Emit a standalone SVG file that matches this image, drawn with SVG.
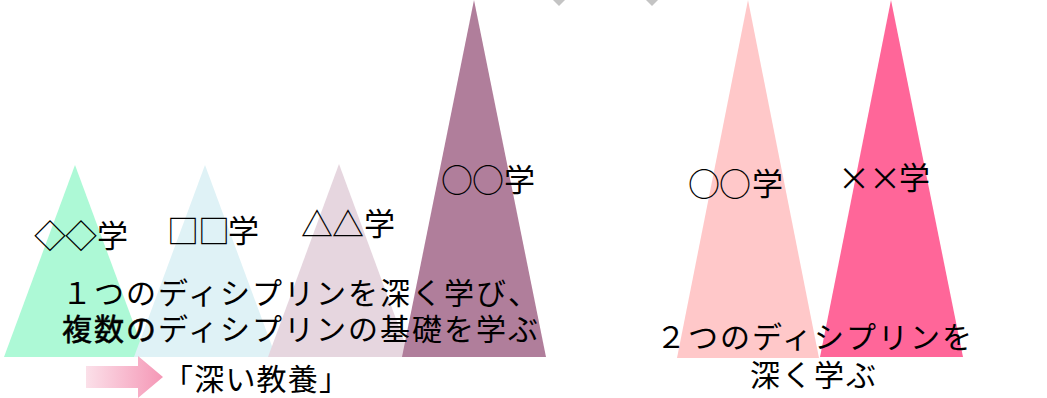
<svg xmlns="http://www.w3.org/2000/svg" width="1047" height="398" viewBox="0 0 1047 398">
<style>
text{font-family:"Noto Sans CJK JP","Noto Sans",sans-serif;fill:#000;font-size:30px}
.lbl{font-size:31px}
.sym{font-size:32px}
.heavy{stroke:#000;stroke-width:0.6px}
</style>
<defs>
<linearGradient id="ag" x1="0" y1="0" x2="1" y2="0">
<stop offset="0" stop-color="#fbe0e9"/>
<stop offset="1" stop-color="#f597b6"/>
</linearGradient>
</defs>
<rect width="1047" height="398" fill="#fff"/>
<g id="connectors">
<polygon points="553,0 565,0 559,6" fill="#c4c4c4"/>
<polygon points="646,0 658,0 652,6" fill="#c4c4c4"/>
</g>
<g id="node-diamond">
<polygon points="75,165 146,357 4,357" fill="#adf9d6"/>
</g>
<g id="node-square">
<polygon points="205,165 276,357 134,357" fill="#dff2f6"/>
</g>
<g id="node-triangle">
<polygon points="339,164 410,357 268,357" fill="#e6d6df"/>
</g>
<g id="node-circle-left">
<polygon points="474,0 546,357 402,357" fill="#b07e9b"/>
</g>
<g id="node-circle-right">
<polygon points="748,0 819,358 677,358" fill="#ffc8c9"/>
</g>
<g id="node-cross">
<polygon points="891,0 963,357 820,357" fill="#ff6699"/>
</g>
<g id="labels">
<text class="lbl" x="34 65 97" y="247"><tspan class="sym" dy="1">◇◇</tspan><tspan dy="-1">学</tspan></text>
<text class="lbl" x="167 198 228" y="242"><tspan class="sym" dy="1">□□</tspan><tspan dy="-1">学</tspan></text>
<text class="lbl" x="301 332 364" y="235"><tspan class="sym" dy="1">△△</tspan><tspan dy="-1">学</tspan></text>
<text class="lbl" x="441 472 504" y="191"><tspan class="sym" dy="1">○○</tspan><tspan dy="-1">学</tspan></text>
<text class="lbl" x="688 719 752" y="195"><tspan class="sym" dy="1">○○</tspan><tspan dy="-1">学</tspan></text>
<text class="lbl" x="838 869 899" y="189"><tspan class="sym" dy="1">××</tspan><tspan dy="-1">学</tspan></text>
</g>
<g id="desc-left">
<text x="62" y="304" textLength="476" lengthAdjust="spacing">１つのディシプリンを深く学び、</text>
<text x="62" y="340" textLength="476" lengthAdjust="spacing"><tspan class="heavy">複数の</tspan>ディシプリンの基礎を学ぶ</text>
</g>
<g id="arrow">
<polygon points="86,366 138,366 138,356 163,377 138,398 138,388 86,388" fill="url(#ag)"/>
<text x="163" y="390" textLength="186" lengthAdjust="spacing">「深い教養」</text>
</g>
<g id="desc-right">
<text x="656" y="348" textLength="316" lengthAdjust="spacing">２つのディシプリンを</text>
<text x="750" y="386" textLength="126" lengthAdjust="spacing">深く学ぶ</text>
</g>
</svg>
